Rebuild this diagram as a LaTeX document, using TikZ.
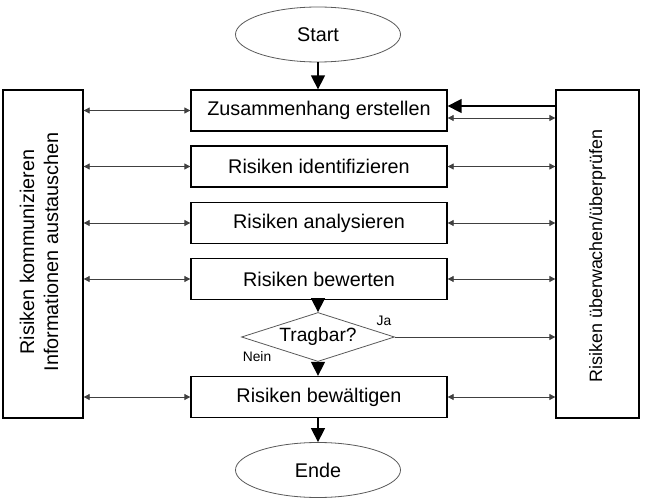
\documentclass[tikz,border=0pt]{standalone}
\usepackage{fontspec}
\setmainfont{Liberation Sans}
\usetikzlibrary{shapes.geometric,arrows.meta}
\begin{document}
\begin{tikzpicture}[x=1pt,y=-1pt,
  txt/.style={font=\fontsize{19.8}{24}\selectfont},
  stepbox/.style={txt,draw=black,line width=1.3pt,minimum width=256pt,minimum height=41pt,inner sep=0pt},
  oval/.style={txt,ellipse,draw=black!65,line width=0.8pt,minimum width=165pt,minimum height=55pt,inner sep=0pt},
  decision/.style={font=\fontsize{19.2}{23}\selectfont,diamond,aspect=3.1,draw=black!65,line width=0.8pt,minimum width=153pt,minimum height=49pt,inner sep=0pt},
  sidebox/.style={draw=black,line width=1.3pt,minimum height=328pt,inner sep=0pt},
  bigarrow/.style={draw=black,line width=1.4pt,-{Triangle[width=14pt,length=14pt]}},
  thin/.style={draw=black!75,line width=0.8pt,{Triangle[width=6pt,length=6pt]}-{Triangle[width=6pt,length=6pt]}},
  thinone/.style={draw=black!75,line width=0.8pt,-{Triangle[width=6pt,length=6pt]}},
  small/.style={font=\fontsize{13.8}{16}\selectfont}
]
\useasboundingbox (0,0) rectangle (645,500);

\node[oval] (start) at (318,34.5) {Start};
\node[stepbox] (b1) at (319,110.5) {Zusammenhang erstellen};
\node[stepbox] (b2) at (319,166.5) {Risiken identifizieren};
\node[stepbox] (b3) at (319,223) {Risiken analysieren};
\node[stepbox] (b4) at (319,279) {Risiken bewerten};
\node[decision] (dec) at (318,337) {Tragbar?};
\node[stepbox] (b5) at (319,397) {Risiken bewältigen};
\node[oval] (ende) at (318,470) {Ende};

\node[sidebox,minimum width=80pt] (lbox) at (43,254) {};
\node[txt,rotate=90,align=center] (ltext) at (39,252) {Risiken kommunizieren\\Informationen austauschen};
\node[sidebox,minimum width=83pt] (rbox) at (597.5,254) {};
\node[font=\fontsize{17.9}{21}\selectfont,rotate=90] (rtext) at (597.5,256) {Risiken überwachen/überprüfen};

\node[small] (ja) at (384,321) {Ja};
\node[small] (nein) at (257,357) {Nein};

% main flow
\draw[bigarrow] (start.south) -- (start.south |- b1.north);
\draw[bigarrow] (dec.north |- b4.south) -- (dec.north);
\draw[bigarrow] (dec.south) -- (dec.south |- b5.north);
\draw[bigarrow] (ende.north |- b5.south) -- (ende.north);

% left connectors
\foreach \b in {b1,b2,b3,b4,b5}
  \draw[thin] (lbox.east |- \b.west) -- (\b.west);

% right connectors
\draw[bigarrow] ([yshift=4.5pt]rbox.west |- b1.east) -- ([yshift=4.5pt]b1.east);
\draw[thin] ([yshift=-7.5pt]b1.east) -- ([yshift=-7.5pt]rbox.west |- b1.east);
\foreach \b in {b2,b3,b4,b5}
  \draw[thin] (\b.east) -- (rbox.west |- \b.east);
\draw[thinone] (dec.east) -- (rbox.west |- dec.east);
\end{tikzpicture}
\end{document}
